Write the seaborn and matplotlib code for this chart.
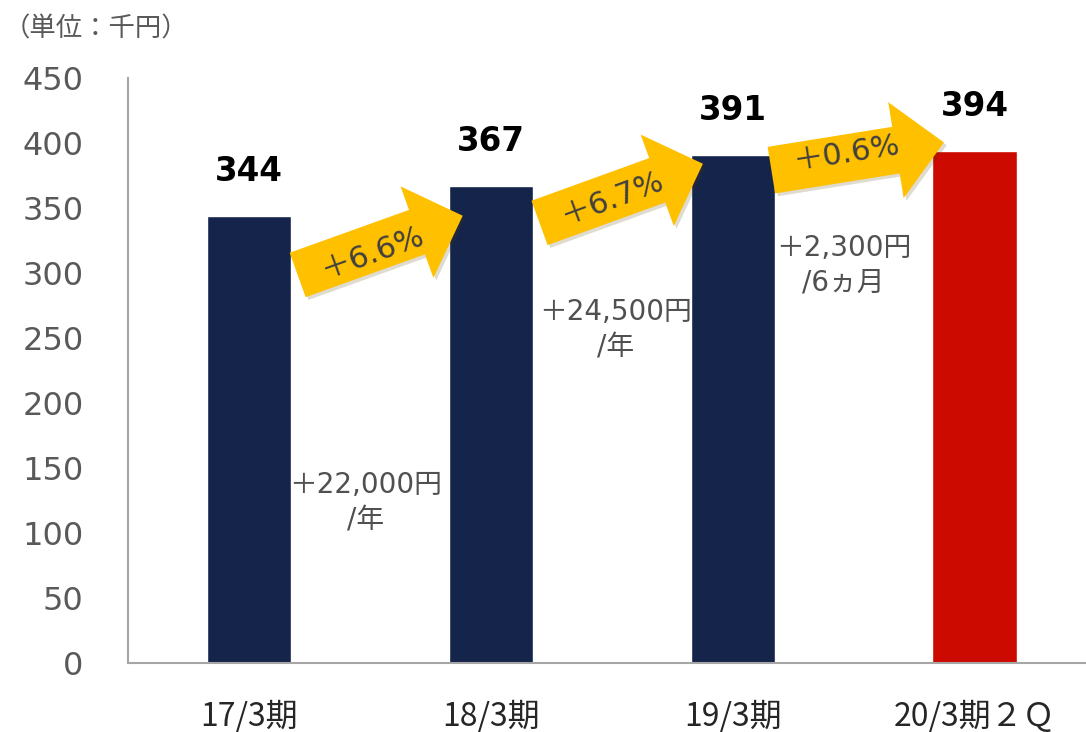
import pandas as pd
import seaborn as sns
import matplotlib.pyplot as plt
from matplotlib.patches import FancyArrowPatch
import matplotlib.patheffects as pe

# data
periods = ['17/3期', '18/3期', '19/3期', '20/3期２Ｑ']
salary = [344, 367, 391, 394]
bar_colors = ['#14244B', '#14244B', '#14244B', '#CC0A00']
growth = ['＋6.6%', '＋6.7%', '＋0.6%']
increase = ['＋22,000円\n/年', '＋24,500円\n/年', '＋2,300円\n/6ヵ月']

df = pd.DataFrame({'period': periods, 'salary': salary})

sns.set_style('white')
plt.rcParams['font.family'] = ['DejaVu Sans', 'Noto Sans CJK JP']

fig = plt.figure(figsize=(10.86, 7.32), dpi=100)
ax = fig.add_axes([0.118, 0.094, 0.882, 0.799])

sns.barplot(data=df, x='period', y='salary', hue='period', palette=bar_colors,
            width=0.35, legend=False, saturation=1, ax=ax)

ax.set_ylim(0, 450)
ax.set_xlim(-0.5, 3.46)
ax.set_yticks(range(0, 451, 50))
ax.set_xlabel('')
ax.set_ylabel('')
ax.tick_params(axis='y', labelsize=23, colors='#595959', length=0, pad=32)
ax.tick_params(axis='x', length=0, pad=26)
for lab in ax.get_xticklabels():
    lab.set_fontfamily(['Noto Sans CJK JP'])
    lab.set_fontsize(23)
    lab.set_color('#262626')
for s in ['top', 'right']:
    ax.spines[s].set_visible(False)
for s in ['left', 'bottom']:
    ax.spines[s].set_color('#A6A6A6')
    ax.spines[s].set_linewidth(1.5)

for c in ax.containers:
    ax.bar_label(c, fmt='%d', padding=20, fontsize=23.5, fontweight='bold', color='black')

# growth arrows between bars (tail -> tip in data units)
arrows = [((0.19, 298), (0.894, 345)),
          ((1.19, 338), (1.887, 385)),
          ((2.148, 379), (2.884, 401))]
text_pos = [(0.51, 316, 19.7), (1.50, 358, 20.3), (2.47, 392, 8.9)]
for (tail, tip), (tx, ty, rot), g in zip(arrows, text_pos, growth):
    arr = FancyArrowPatch(tail, tip, arrowstyle='simple,head_width=70,head_length=35,tail_width=34',
                          mutation_scale=1, color='#FFC000', lw=0, zorder=4,
                          path_effects=[pe.SimplePatchShadow(offset=(2, -2), alpha=0.18), pe.Normal()])
    ax.add_patch(arr)
    ax.text(tx, ty, g, rotation=rot, rotation_mode='anchor', ha='center', va='center',
            fontsize=22, color='#404040', zorder=5)

inc_pos = [(0.48, 124), (1.515, 257), (2.458, 306)]
for (x, y), t in zip(inc_pos, increase):
    ax.text(x, y, t, ha='center', va='center', fontsize=20, color='#505050',
            linespacing=1.3, zorder=5)

fig.text(0.003, 0.96, '（単位：千円）', fontsize=19, color='#595959', va='center',
         family=['Noto Sans CJK JP'])

plt.savefig('out.png', dpi=100)
